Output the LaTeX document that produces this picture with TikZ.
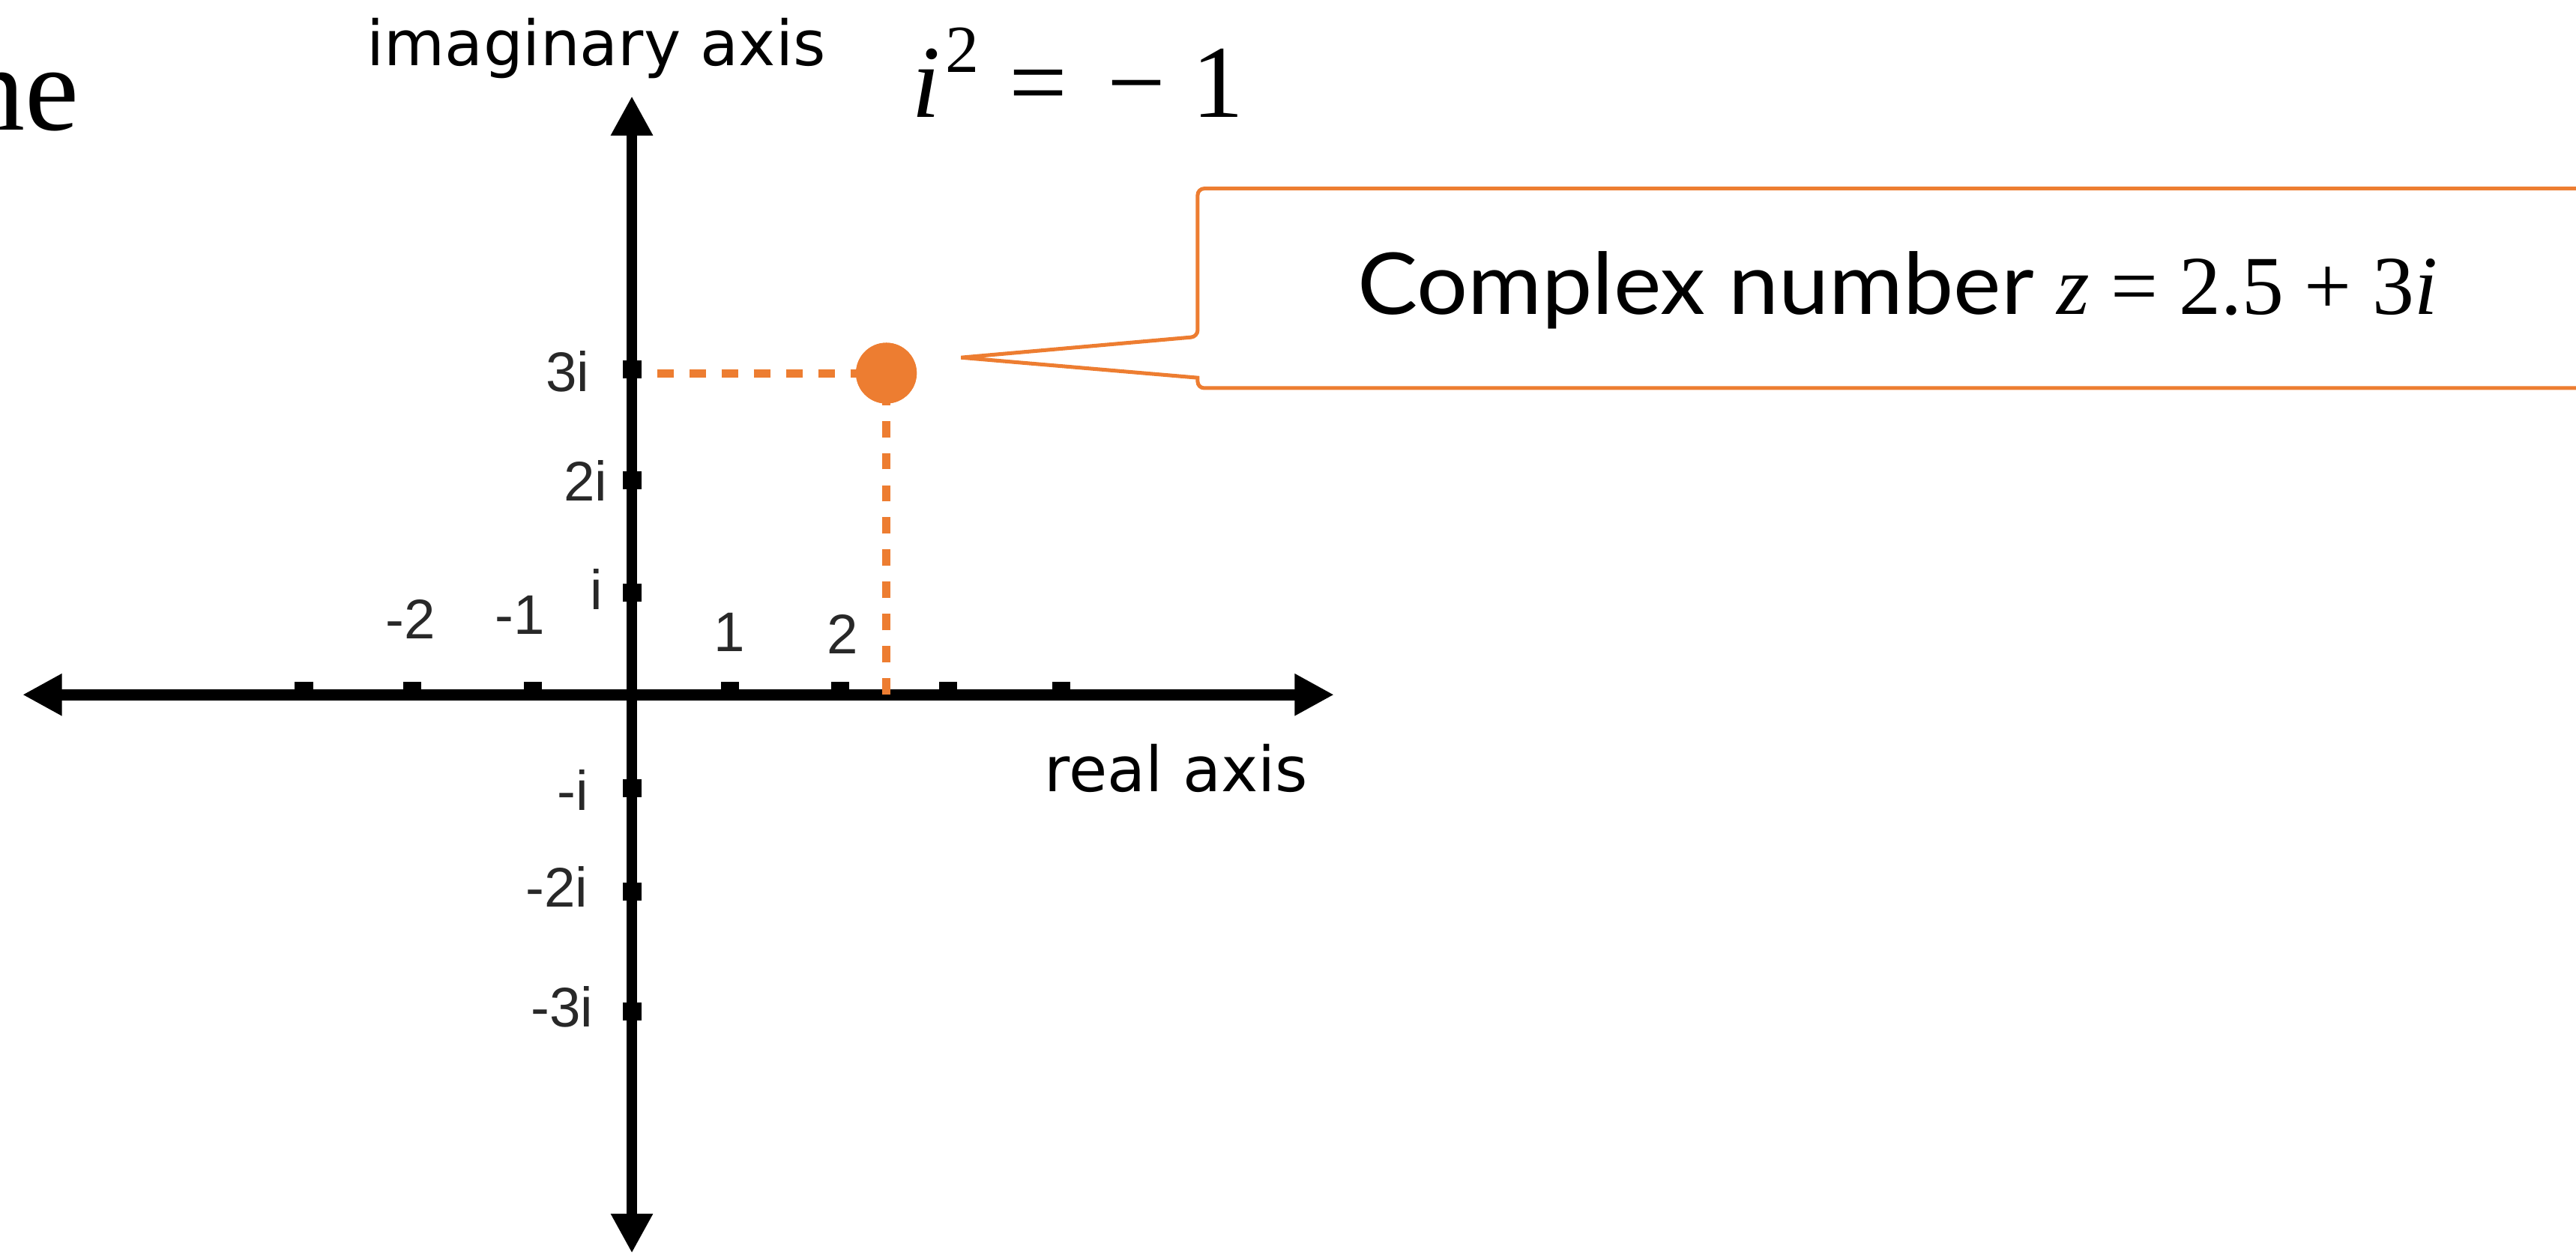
\documentclass[tikz,border=0pt]{standalone}
\usepackage{fontspec}
\setmainfont{Liberation Serif}
\newfontfamily\axisfont{DejaVu Sans}
\newfontfamily\tickfont{Liberation Sans}
\newfontfamily\calloutfont[FakeStretch=1.055]{Lato}
\usetikzlibrary{arrows.meta}
\definecolor{accent}{RGB}{237,125,49}
\definecolor{ticklabel}{RGB}{40,40,40}
\tikzset{
  axisline/.style={line width=#1, -{Triangle[width=24pt,length=24pt]}},
  tickmark/.style={rectangle, fill=black, inner sep=0pt, minimum width=11pt, minimum height=11pt},
  ticklbl/.style={inner sep=0pt, text=ticklabel, font=\tickfont\fontsize{34}{34}\selectfont},
  axislbl/.style={inner sep=0pt, font=\axisfont\fontsize{38}{40}\selectfont},
  guide/.style={accent, line width=5pt, dash pattern=on 10pt off 9.6pt},
  calloutbox/.style={accent, line width=2.3pt, fill=white},
  dotpt/.style={circle, fill=accent, inner sep=0pt, minimum size=37pt}
}
\begin{document}
\begin{tikzpicture}[x=1pt,y=-1pt]
\useasboundingbox (0,0) rectangle (1568,763.7);

% partial title text (cut at the left edge, as in the reference)
\node[anchor=base east, inner sep=0pt, font=\fontsize{74}{80}\selectfont] (title) at (48.5,79) {ne};

% axes end points
\coordinate (xl) at (13.7,423);
\coordinate (xr) at (812,423);
\coordinate (yt) at (384.6,58.5);
\coordinate (yb) at (384.6,763);
\coordinate (o) at (384.6,423);

\draw[axisline=7pt] (o) -- (xr);
\draw[axisline=7pt] (o) -- (xl);
\draw[axisline=6pt] (o) -- (yt);
\draw[axisline=6pt] (o) -- (yb);

% ticks on real axis
\foreach \n/\x in {m3/185, m2/251, m1/324.5, p1/444.5, p2/511.5, p3/577, p4/646}
  \node[tickmark] (tx\n) at (\x,420.8) {};
% ticks on imaginary axis
\foreach \n/\y in {p3/225, p2/292.5, p1/361, m1/480, m2/543, m3/615.7}
  \node[tickmark] (ty\n) at (384.8,\y) {};

% tick labels
\node[ticklbl] (lm2) at (250,377) {-2};
\node[ticklbl] (lm1) at (316.5,374.5) {-1};
\node[ticklbl] (lp1) at (444,385) {1};
\node[ticklbl] (lp2) at (513,386) {2};
\node[ticklbl] (l3i) at (345.5,226) {3i};
\node[ticklbl] (l2i) at (356.5,292.5) {2i};
\node[ticklbl] (l1i) at (363,359) {i};
\node[ticklbl] (lm1i) at (348.7,481) {-i};
\node[ticklbl] (lm2i) at (339,540) {-2i};
\node[ticklbl] (lm3i) at (342,613) {-3i};

% axis labels
\node[axislbl, anchor=base] (imlbl) at (363,40) {imaginary axis};
\node[axislbl, anchor=base] (relbl) at (716,482) {real axis};

% i^2 = -1
\node[anchor=base west, inner sep=0pt, font=\fontsize{63}{66}\selectfont] (ieq) at (555,71.2)
  {\textit{i}\kern3pt\raisebox{0.43em}{\fontsize{41}{41}\selectfont 2}\hspace{18pt}=\hspace{24.5pt}−\hspace{16pt}1};

% the point z and guides
\node[dotpt] (z) at (539.5,227.2) {};
\coordinate (zx) at (539.5,423);
\coordinate (zy) at (400,227.2);
\draw[guide] (zy) -- (z.center);
\draw[guide] (zx) -- (z.center);
\node[dotpt] at (z.center) {};

% callout
\coordinate (tip) at (585,217.7);
\draw[calloutbox] (1600,114.8) [rounded corners=4pt] -- (729,114.8) -- (729,205) [sharp corners] -- (tip) -- (729,230) [rounded corners=4pt] -- (729,236.3) -- (1600,236.3) [sharp corners] -- cycle;
\node[anchor=base west, inner sep=0pt] (zlbl) at (826,191.6)
  {\calloutfont\fontsize{52}{56}\selectfont Complex number {\fontspec{Liberation Serif}\fontsize{51}{56}\selectfont\textit{z} = 2.5 + 3\textit{i}}};
\end{tikzpicture}
\end{document}
